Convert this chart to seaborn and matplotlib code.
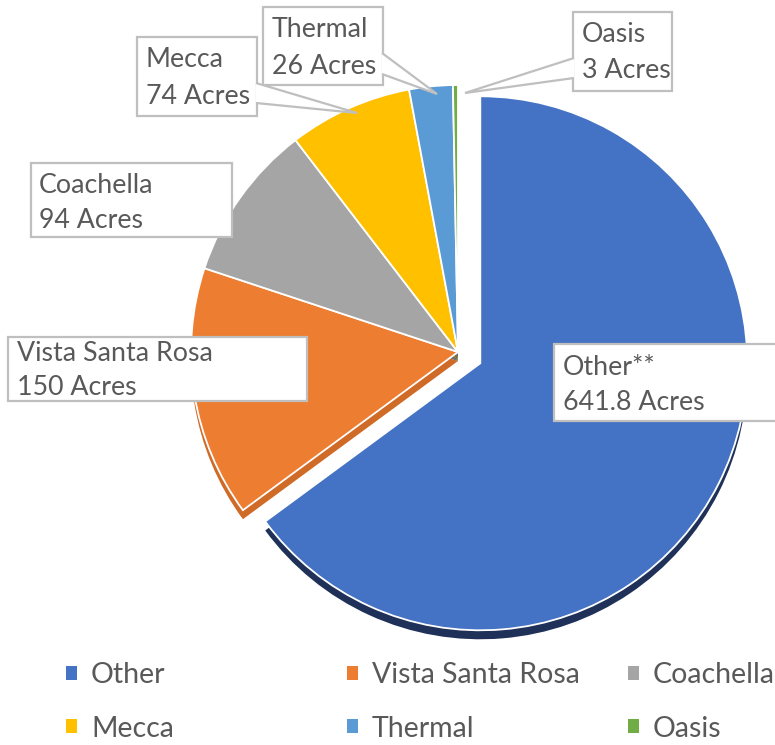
import numpy as np
import seaborn as sns
import matplotlib.pyplot as plt
from matplotlib.patches import Rectangle, Polygon, Patch

W, H = 775, 745

names = ["Other", "Vista Santa Rosa", "Coachella", "Mecca", "Thermal", "Oasis"]
label_names = ["Other**", "Vista Santa Rosa", "Coachella", "Mecca", "Thermal", "Oasis"]
acres = [641.8, 150, 94, 74, 26, 3]
colors = ["#4472C4", "#ED7D31", "#A5A5A5", "#FFC000", "#5B9BD5", "#70AD47"]
side_colors = ["#1F3158", "#D06A27", "#6B6B6B", "#8A6A00", "#2E6AA6", "#4E7A32"]

# label callout layout in image pixels: box (x0, y0, x1, y1), text x, baselines
boxes = {
    "Other": ((554, 344, 790, 421), 563, 375, 410),
    "Vista Santa Rosa": ((8, 337, 307, 401), 17, 361, 395),
    "Coachella": ((31, 163, 232, 237), 39, 193, 228),
    "Mecca": ((137, 37, 257, 116), 146, 67, 104),
    "Thermal": ((263, 7, 383, 85), 272, 37, 74),
    "Oasis": ((573, 12, 672, 91), 582, 42, 78),
}
pointers = {
    "Mecca": [(256, 83), (357, 113), (256, 103)],
    "Thermal": [(382, 53), (437, 94), (382, 74)],
    "Oasis": [(574, 58), (465, 93), (574, 78)],
}

TXT = "#595959"
EDGE = "#BFBFBF"


def Y(y):
    return H - y


def main():
    sns.set_theme(style="white")
    plt.rcParams["font.family"] = ["Lato", "DejaVu Sans"]

    fig = plt.figure(figsize=(W / 100, H / 100), dpi=100)
    ax = fig.add_axes([0, 0, 1, 1])

    center = (458, Y(352))
    radius = 267
    explode = [25, 0, 0, 0, 0, 0]

    # side of the 3D pie: darker copy shifted down
    side, _ = ax.pie(acres, colors=side_colors, startangle=90, counterclock=False,
                     radius=radius, center=(center[0], center[1] - 9),
                     explode=explode, wedgeprops=dict(linewidth=0))
    for w in side:
        w.set_zorder(1)
    top, _ = ax.pie(acres, colors=colors, startangle=90, counterclock=False,
                    radius=radius, center=center, explode=explode,
                    wedgeprops=dict(edgecolor="white", linewidth=1.3))
    for w in top:
        w.set_zorder(2)

    ax.set_xlim(0, W)
    ax.set_ylim(0, H)
    ax.set_aspect("equal")
    ax.axis("off")

    for name, lab, val in zip(names, label_names, acres):
        (x0, y0, x1, y1), tx, b1, b2 = boxes[name]
        ax.add_patch(Rectangle((x0, Y(y1)), x1 - x0, y1 - y0, facecolor="white",
                               edgecolor=EDGE, linewidth=1.6, zorder=4, clip_on=False))
        if name in pointers:
            pts = [(px, Y(py)) for px, py in pointers[name]]
            ax.add_patch(Polygon(pts, closed=False, facecolor="white", edgecolor=EDGE,
                                 linewidth=1.6, zorder=5))
        ax.text(tx, Y(b1), lab, fontsize=19.3, color=TXT, va="baseline", ha="left", zorder=6)
        ax.text(tx, Y(b2), f"{val:g} Acres", fontsize=19.3, color=TXT, va="baseline",
                ha="left", zorder=6)

    # legend, three columns of two entries
    cols_x = [66, 347, 628]
    for c, x in enumerate(cols_x):
        idx = [c, c + 3]
        handles = [Patch(facecolor=colors[i], edgecolor="none") for i in idx]
        fig.legend(handles, [names[i] for i in idx], loc="center left",
                   bbox_to_anchor=(x / W, 1 - 702 / H), frameon=False,
                   fontsize=20.5, labelcolor=TXT, handlelength=0.39, handleheight=0.39,
                   handletextpad=0.49, labelspacing=0.95, borderpad=0, borderaxespad=0)

    fig.savefig("out.png", dpi=100)


if __name__ == "__main__":
    main()
